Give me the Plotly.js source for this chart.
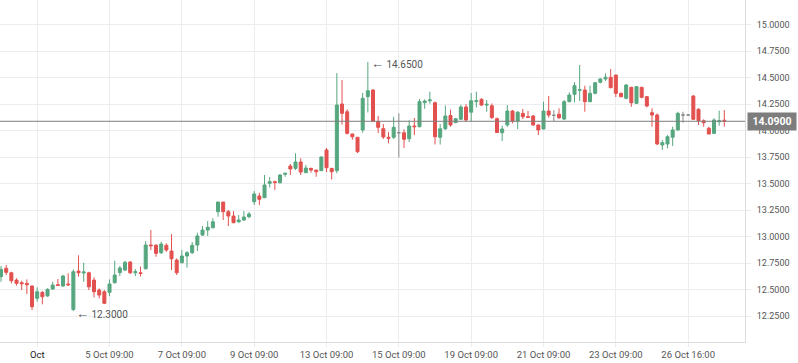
<!DOCTYPE html>
<html>
<head>
<meta charset="utf-8">
<script src="https://cdn.plot.ly/plotly-3.0.1.min.js"></script>
<style>html,body{margin:0;padding:0;background:#fff;}#chart{width:798px;height:363px;}</style>
</head>
<body>
<div id="chart"></div>
<script>
// OHLC candles, one per bar
var opens = [12.624,12.703,12.661,12.592,12.567,12.561,12.536,12.420,12.476,12.442,
12.508,12.548,12.536,12.555,12.314,12.677,12.659,12.661,12.592,12.498,
12.482,12.476,12.567,12.663,12.687,12.762,12.661,12.661,12.699,12.923,
12.920,12.850,12.920,12.866,12.781,12.756,12.819,12.850,12.923,13.017,
13.064,13.086,13.237,13.328,13.237,13.196,13.142,13.159,13.190,13.331,
13.385,13.369,13.505,13.520,13.510,13.590,13.668,13.646,13.706,13.605,
13.646,13.630,13.624,13.819,13.646,13.624,14.253,14.180,13.970,13.939,
14.008,14.322,14.385,14.088,14.020,13.939,13.939,13.982,13.982,13.925,
14.045,14.039,14.265,14.284,14.265,13.939,14.020,14.144,14.078,14.109,
14.225,14.176,14.275,14.297,14.243,14.236,14.114,13.982,14.055,14.187,
14.092,14.165,14.133,14.140,14.055,14.017,14.187,14.146,14.156,14.111,
14.275,14.344,14.382,14.385,14.275,14.354,14.458,14.489,14.505,14.526,
14.354,14.307,14.410,14.259,14.410,14.322,14.171,14.149,13.866,13.876,
13.939,14.008,14.149,14.149,14.328,14.203,14.095,14.024,13.976,14.086,
14.100];
var highs = [12.725,12.734,12.671,12.609,12.586,12.599,12.542,12.524,12.489,12.514,
12.576,12.602,12.642,12.656,12.693,12.826,12.756,12.671,12.618,12.514,
12.498,12.599,12.775,12.725,12.775,12.772,12.696,12.720,12.960,13.064,
12.932,12.954,12.939,13.026,12.797,12.876,12.866,12.951,13.039,13.102,
13.149,13.175,13.330,13.330,13.253,13.243,13.206,13.243,13.234,13.432,
13.416,13.583,13.564,13.530,13.592,13.604,13.687,13.788,13.741,13.677,
13.652,13.632,13.759,13.838,13.648,14.545,14.479,14.203,13.972,13.941,
14.357,14.650,14.392,14.140,14.064,13.989,14.133,14.165,14.014,14.099,
14.121,14.302,14.297,14.369,14.275,14.064,14.239,14.199,14.121,14.246,
14.251,14.357,14.369,14.307,14.291,14.259,14.126,14.048,14.243,14.196,
14.187,14.206,14.187,14.149,14.061,14.275,14.328,14.196,14.212,14.291,
14.363,14.458,14.621,14.426,14.426,14.458,14.495,14.542,14.583,14.528,
14.359,14.442,14.416,14.423,14.416,14.328,14.212,14.165,13.913,13.960,
14.039,14.180,14.180,14.152,14.338,14.212,14.109,14.039,14.118,14.190,
14.196];
var lows = [12.576,12.640,12.561,12.539,12.498,12.460,12.309,12.388,12.363,12.435,
12.498,12.540,12.529,12.536,12.300,12.624,12.576,12.498,12.429,12.420,
12.366,12.442,12.561,12.630,12.677,12.649,12.630,12.626,12.693,12.876,
12.812,12.838,12.859,12.687,12.640,12.750,12.709,12.838,12.866,13.008,
13.008,13.080,13.190,13.159,13.102,13.130,13.133,13.149,13.175,13.300,
13.300,13.366,13.465,13.442,13.505,13.567,13.583,13.630,13.583,13.602,
13.605,13.567,13.621,13.611,13.541,13.599,14.059,13.965,13.916,13.791,
13.982,14.173,14.086,13.979,13.923,13.882,13.923,13.748,13.838,13.894,
13.960,14.033,14.208,14.256,13.871,13.871,14.008,14.039,14.071,14.102,
14.086,14.086,14.220,14.234,14.180,14.111,13.979,13.904,14.039,14.071,
14.017,14.111,14.124,14.048,13.960,14.014,14.124,14.092,14.111,14.102,
14.269,14.269,14.281,14.180,14.269,14.344,14.448,14.470,14.401,14.319,
14.316,14.297,14.227,14.253,14.307,14.222,14.039,13.866,13.819,13.835,
13.857,14.001,14.076,14.146,14.102,14.055,14.039,13.968,13.970,14.048,
14.039];
var closes = [12.693,12.665,12.586,12.561,12.558,12.548,12.341,12.482,12.435,12.505,
12.545,12.542,12.630,12.548,12.671,12.661,12.668,12.529,12.482,12.451,
12.373,12.555,12.640,12.706,12.759,12.661,12.671,12.654,12.923,12.916,
12.844,12.932,12.876,12.793,12.661,12.819,12.850,12.920,13.008,13.064,
13.090,13.142,13.328,13.237,13.196,13.133,13.159,13.187,13.215,13.404,
13.354,13.489,13.520,13.512,13.583,13.599,13.640,13.706,13.611,13.649,
13.630,13.614,13.753,13.652,13.614,14.243,14.165,13.976,13.944,13.803,
14.307,14.378,14.092,14.033,13.942,13.929,14.033,13.982,13.920,14.045,
14.039,14.275,14.281,14.291,13.944,14.019,14.140,14.055,14.114,14.225,
14.102,14.284,14.284,14.243,14.250,14.126,13.984,14.017,14.187,14.092,
14.175,14.133,14.127,14.055,14.008,14.187,14.149,14.146,14.124,14.275,
14.338,14.426,14.388,14.275,14.354,14.454,14.489,14.505,14.407,14.354,
14.322,14.432,14.265,14.416,14.316,14.234,14.149,13.876,13.888,13.944,
14.008,14.165,14.149,14.149,14.109,14.095,14.076,13.970,14.102,14.095,
14.090];

// x-axis labels and the bar index each one sits on
var tickIndex = [7, 21, 35, 49, 63, 77, 91, 105, 119, 133];
var tickLabels = ['<span style="color:#222">Oct</span>', '5 Oct 09:00', '7 Oct 09:00', '9 Oct 09:00',
  '13 Oct 09:00', '15 Oct 09:00', '19 Oct 09:00', '21 Oct 09:00', '23 Oct 09:00', '26 Oct 16:00'];
var priceTicks = [12.25, 12.5, 12.75, 13.0, 13.25, 13.5, 13.75, 14.0, 14.25, 14.5, 14.75, 15.0];

var GREEN = '#56a77f', RED = '#e2514f', GREY = '#8a8a8a';
var FONT = 'Roboto, "Open Sans", sans-serif';

function pick(arr, idx) { return idx.map(function (i) { return arr[i]; }); }
var allIdx = opens.map(function (_, i) { return i; });
var normIdx = allIdx.filter(function (i) { return opens[i] !== closes[i]; });
var dojiIdx = allIdx.filter(function (i) { return opens[i] === closes[i]; });

function candle(idx, up, down) {
  return {
    type: 'candlestick', x: idx,
    open: pick(opens, idx), high: pick(highs, idx), low: pick(lows, idx), close: pick(closes, idx),
    increasing: { line: { color: up, width: 1 }, fillcolor: up },
    decreasing: { line: { color: down, width: 1 }, fillcolor: down },
    hoverinfo: 'skip', showlegend: false
  };
}
var data = [candle(normIdx, GREEN, RED), candle(dojiIdx, GREY, GREY)];

// extremes for the markers
var hiIdx = 0, loIdx = 0;
highs.forEach(function (v, i) { if (v > highs[hiIdx]) hiIdx = i; });
lows.forEach(function (v, i) { if (v < lows[loIdx]) loIdx = i; });
var last = closes[closes.length - 1];
var ARROW = '<span style="font-size:13px">\u2190</span> ';

var layout = {
  width: 798, height: 363,
  margin: { l: 0, r: 53, t: 0, b: 21, pad: 0 },
  paper_bgcolor: '#ffffff', plot_bgcolor: '#ffffff',
  showlegend: false, hovermode: false,
  boxgap: 0.42, boxgroupgap: 0,
  font: { family: FONT, size: 10, color: '#555' },
  xaxis: {
    type: 'linear', range: [-0.2, 144.0],
    tickmode: 'array', tickvals: tickIndex, ticktext: tickLabels,
    showgrid: true, gridcolor: '#ebecef', gridwidth: 1,
    ticks: 'outside', ticklen: 4, tickcolor: '#ebecef',
    showline: true, linecolor: '#dadce0', linewidth: 1,
    zeroline: false, rangeslider: { visible: false },
    tickfont: { family: FONT, size: 9.5, color: '#555' },
    fixedrange: true
  },
  yaxis: {
    side: 'right', range: [12.008, 15.234],
    tickmode: 'array', tickvals: priceTicks, tickformat: '.4f',
    showgrid: true, gridcolor: '#ebecef', gridwidth: 1,
    ticks: 'outside', ticklen: 5, tickcolor: '#ebecef',
    ticklabelstandoff: 4,
    showline: true, linecolor: '#dadce0', linewidth: 1,
    zeroline: false,
    tickfont: { family: FONT, size: 9, color: '#555' },
    fixedrange: true
  },
  shapes: [{
    type: 'line', xref: 'paper', yref: 'y', x0: 0, x1: 1, y0: last, y1: last,
    line: { color: '#7d7d7d', width: 1 }, layer: 'above'
  }],
  annotations: [
    { x: hiIdx, y: highs[hiIdx], xref: 'x', yref: 'y', text: ARROW + highs[hiIdx].toFixed(4),
      showarrow: false, xanchor: 'left', yanchor: 'middle', xshift: 1, yshift: -2,
      font: { family: FONT, size: 10, color: '#555' } },
    { x: loIdx, y: lows[loIdx], xref: 'x', yref: 'y', text: ARROW + lows[loIdx].toFixed(4),
      showarrow: false, xanchor: 'left', yanchor: 'middle', xshift: 1, yshift: -2,
      font: { family: FONT, size: 10, color: '#555' } },
    { x: 1, y: last, xref: 'paper', yref: 'y', text: '<b>' + last.toFixed(4) + '</b>',
      showarrow: false, xanchor: 'left', yanchor: 'middle', xshift: 2,
      width: 46, height: 15, align: 'center', bgcolor: '#7d7d7d', borderpad: 1,
      font: { family: FONT, size: 10.5, color: '#ffffff' } }
  ]
};

Plotly.newPlot('chart', data, layout, { staticPlot: true, displayModeBar: false });
</script>
</body>
</html>
